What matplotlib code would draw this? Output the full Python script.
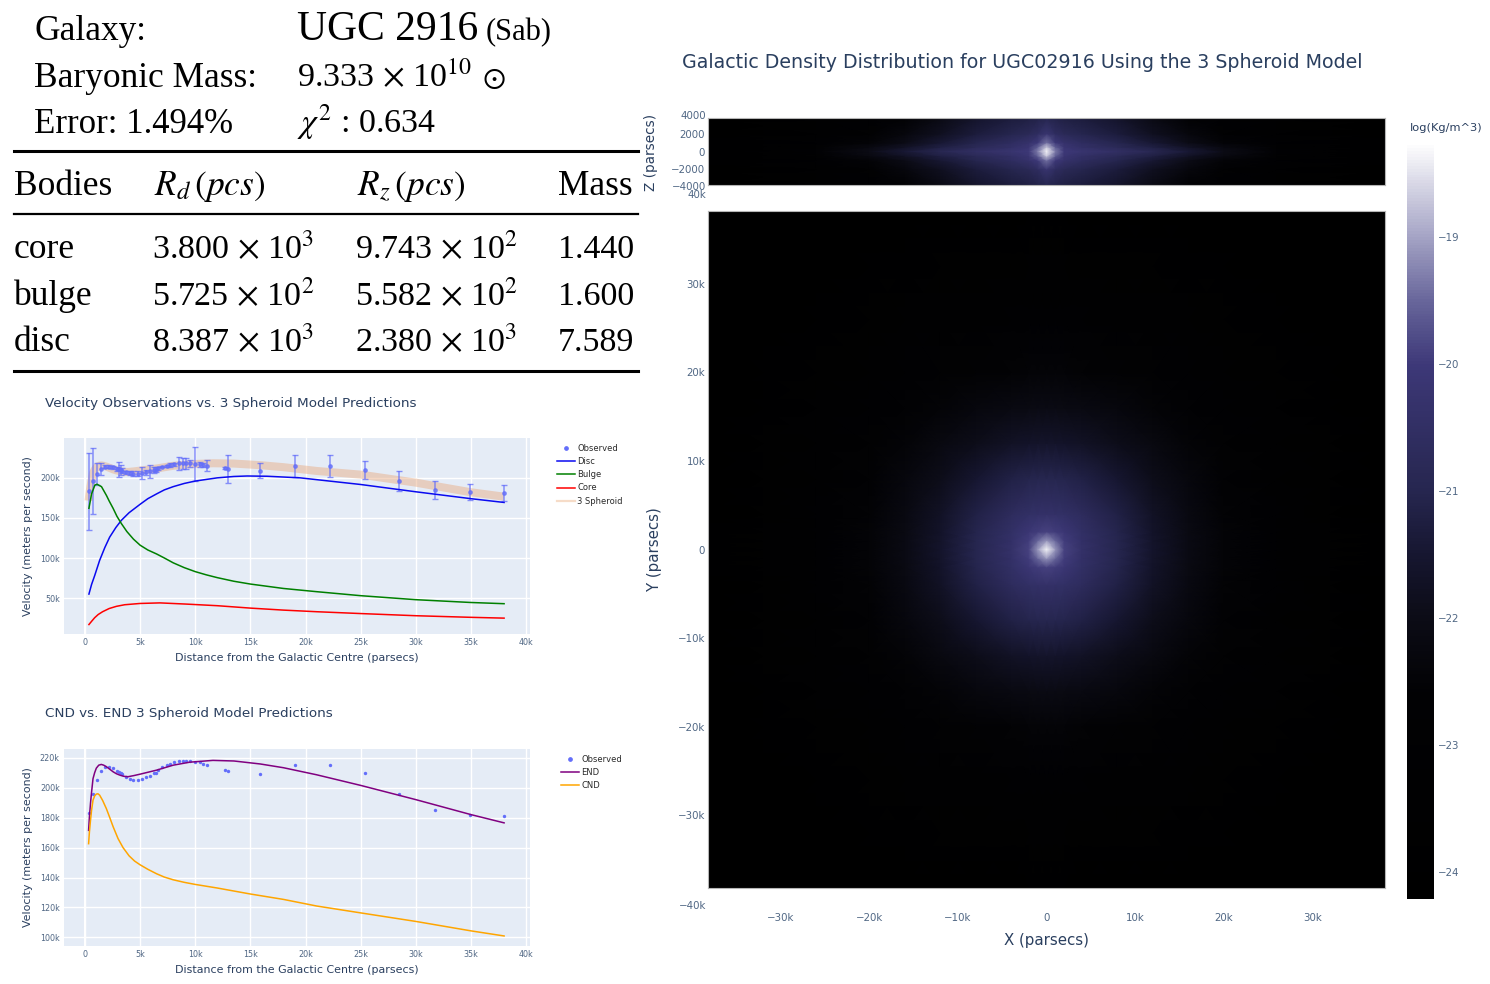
import numpy as np
import matplotlib
matplotlib.use("Agg")
import matplotlib.pyplot as plt
from matplotlib.colors import LinearSegmentedColormap
from matplotlib.lines import Line2D
from matplotlib.ticker import FuncFormatter

plt.rcParams['font.family'] = ['DejaVu Sans']
plt.rcParams['mathtext.fontset'] = 'stix'

# observed rotation curve (x in thousands of parsecs, v in thousands of m/s)
obs_x = [0.33, 0.73, 1.09, 1.48, 1.85, 2.2, 2.58, 2.9, 3.1, 3.27, 3.36, 3.7, 4.06, 4.4, 4.8, 5.2, 5.55, 5.9, 6.3,
         6.4, 6.65, 7.0, 7.4, 7.75, 8.1, 8.5, 8.85, 9.2, 9.55, 10.0, 10.4, 10.7, 11.1, 12.66, 13.0, 15.9, 19.05,
         22.2, 25.36, 28.5, 31.7, 34.9, 38.0]
obs_v = [183, 196, 205, 211, 214, 214, 213, 211, 210.5, 209.5, 209, 207, 206, 205, 205, 206, 207, 208, 210,
         210, 212, 214, 215, 216, 217, 218, 218, 218, 218, 217, 217, 216, 215, 212, 211, 209, 215,
         215, 210, 196, 185, 182, 181]
obs_err = [48, 41, 14, 8, 2, 2, 2, 3, 9, 6, 3, 2, 3, 3, 3, 8, 3, 8, 4,
           3, 2, 1, 1, 2, 2, 8, 7, 7, 4, 21, 3, 3, 7, 1, 17, 9, 14,
           14, 11, 13, 11, 10, 10]

disc_x = [0.36, 0.6, 0.88, 1.33, 1.8, 2.24, 2.8, 3.3, 4, 5, 5.7, 6.5, 7.2, 8, 9, 10, 12, 13.5, 14.7, 16.5, 19.5, 25,
          30, 35, 38]
disc_v = [55, 67, 78, 97, 113, 126, 138, 147, 156.5, 167, 174, 180, 185, 189, 193, 196, 200, 201.7, 202.3, 202, 200,
          191.7, 182.6, 174, 169.3]
bulge_x = [0.36, 0.6, 0.9, 1.1, 1.5, 1.95, 2.2, 2.55, 2.9, 3.3, 3.8, 4.4, 5, 5.7, 6.5, 7.2, 8, 9, 10, 11, 12, 13.5,
           15, 18, 21, 25, 30, 35, 38]
bulge_v = [162, 180, 191, 192, 189, 178, 171, 162, 152, 143, 133, 123.5, 116, 110, 105, 100, 94, 88, 83, 79,
           75.5, 71, 67.5, 62, 58, 53, 48, 44.5, 43]
core_x = [0.36, 0.6, 0.88, 1.2, 1.6, 2.2, 2.85, 3.6, 5, 6.8, 9.2, 12, 15, 18, 21, 25, 30, 35, 38]
core_v = [17, 21, 25.5, 29.5, 33, 37, 39.7, 41.7, 43.3, 44, 42.5, 40.5, 37.5, 35, 33, 30.7, 28, 26, 25]

end_x = [0.33, 0.4, 0.5, 0.6, 0.73, 0.88, 1.03, 1.25, 1.48, 1.7, 1.94, 2.25, 2.55, 2.85, 3.15, 3.5, 3.9, 4.4, 5, 6.5,
         8, 9.5, 11.6, 13.5, 15.9, 18, 21, 25, 30, 35, 38]
end_v = [171.5, 180, 189.4, 197, 206, 210, 213, 215, 215.5, 215, 214, 212.3, 210.6, 209.3, 208.4, 207.6, 207.3, 208,
         209, 211.7, 215, 217, 218.2, 217.8, 215.8, 213.3, 208.6, 201.5, 192, 182, 176.5]
spheroid_v = [171.5, 180, 189.4, 197, 206, 210, 213, 215, 215.5, 215, 214, 212.3, 210.6, 209.3, 208.4, 207.6, 207.3,
              208, 209, 211.7, 215, 217, 218.2, 217.8, 215.8, 213.3, 208.6, 204, 194, 182, 176.5]
cnd_x = [0.33, 0.4, 0.5, 0.6, 0.73, 0.88, 1.03, 1.18, 1.33, 1.6, 1.94, 2.25, 2.55, 3, 3.45, 4, 4.5, 5, 5.7, 6.5, 7.2,
         8, 9, 10, 12, 15, 18, 21, 25, 30, 35, 38]
cnd_v = [162.6, 170, 178, 185, 191.6, 194.5, 195.7, 195.9, 195, 191.5, 186, 180, 174, 166, 160, 154.5, 151, 148.5,
         145.5, 142.5, 140.3, 138.5, 136.8, 135.4, 133, 129, 125.4, 121, 116.4, 110.7, 104.4, 101]

# density tables, log10 values, one quadrant each
grid_k = [0, 1, 2, 4, 8, 12, 16, 20, 26, 32, 38.2]
face_on = [
    [-18.3, -19.1, -19.9, -20.4, -21.0, -21.6, -22.1, -22.5, -23.1, -23.6, -24.0],
    [-19.1, -19.5, -19.97, -20.42, -21.01, -21.61, -22.1, -22.5, -23.1, -23.6, -24.0],
    [-19.9, -19.97, -20.1, -20.47, -21.04, -21.63, -22.12, -22.51, -23.11, -23.6, -24.0],
    [-20.4, -20.42, -20.47, -20.65, -21.14, -21.7, -22.15, -22.54, -23.13, -23.62, -24.01],
    [-21.0, -21.01, -21.04, -21.14, -21.5, -21.95, -22.3, -22.65, -23.2, -23.67, -24.03],
    [-21.6, -21.61, -21.63, -21.7, -21.95, -22.2, -22.5, -22.83, -23.32, -23.74, -24.08],
    [-22.1, -22.1, -22.12, -22.15, -22.3, -22.5, -22.76, -23.06, -23.48, -23.85, -24.1],
    [-22.5, -22.5, -22.51, -22.54, -22.65, -22.83, -23.06, -23.29, -23.65, -23.97, -24.13],
    [-23.1, -23.1, -23.11, -23.13, -23.2, -23.32, -23.48, -23.65, -23.9, -24.1, -24.15],
    [-23.6, -23.6, -23.6, -23.62, -23.67, -23.74, -23.85, -23.97, -24.1, -24.14, -24.17],
    [-24.0, -24.0, -24.0, -24.01, -24.03, -24.08, -24.1, -24.13, -24.15, -24.17, -24.2],
]
edge_x_k = [0, 1, 2, 4, 8, 12, 16, 20, 26, 38.2]
edge_z_k = [0, 0.5, 1, 2, 3.8]
edge_on = [
    [-18.3, -19.3, -20.0, -20.2, -20.5, -20.9, -21.4, -22.0, -22.7, -24.0],
    [-18.7, -19.6, -20.15, -20.45, -20.8, -21.2, -21.7, -22.2, -22.85, -24.0],
    [-19.4, -20.0, -20.3, -20.6, -21.0, -21.45, -22.0, -22.5, -23.0, -24.0],
    [-20.2, -20.6, -20.8, -21.0, -21.3, -21.8, -22.3, -22.8, -23.3, -24.05],
    [-21.0, -21.1, -21.2, -21.3, -21.6, -22.1, -22.6, -23.0, -23.5, -24.1],
]
cbar_ticks = [-24, -23, -22, -21, -20, -19]
cmap_levels = [-24.21, -22.6, -22.0, -21.5, -21.0, -20.0, -19.5, -19.0, -18.25]
cmap_colors = ['#000000', '#020204', '#0c0c16', '#161630', '#26264f', '#3d3878', '#67659a', '#a3a2c4', '#ffffff']

# summary table
bodies = ['core', 'bulge', 'disc']
rd_text = [r'3.800 $\times$ 10$^{3}$', r'5.725 $\times$ 10$^{2}$', r'8.387 $\times$ 10$^{3}$']
rz_text = [r'9.743 $\times$ 10$^{2}$', r'5.582 $\times$ 10$^{2}$', r'2.380 $\times$ 10$^{3}$']
mass_text = ['1.440', '1.600', '7.589']

W, H = 1490, 984
TITLE = '#2a3f5f'
TICK = '#506784'
SERIF = 'Liberation Serif'

fig = plt.figure(figsize=(W / 100, H / 100), dpi=100)


def axes_px(left, top, right, bottom):
    return fig.add_axes([left / W, 1 - bottom / H, (right - left) / W, (bottom - top) / H])


def text_px(x, y, s, **kw):
    return fig.text(x / W, 1 - y / H, s, **kw)


def rule(y, lw):
    fig.add_artist(Line2D([14 / W, 638 / W], [1 - y / H, 1 - y / H], color='black', lw=lw))


def k_label(v, pos):
    if v == 0:
        return '0'
    return f'{v / 1000:.0f}k'.replace('-', '\u2212')


def style_curve_axes(ax, ylim, yticks):
    ax.set_facecolor('#e5ecf6')
    ax.set_xlim(-1900, 40350)
    ax.set_ylim(*ylim)
    ax.set_xticks(range(0, 40001, 5000))
    ax.set_yticks(yticks)
    ax.xaxis.set_major_formatter(FuncFormatter(k_label))
    ax.yaxis.set_major_formatter(FuncFormatter(k_label))
    ax.grid(color='white', lw=1)
    ax.set_axisbelow(True)
    ax.tick_params(length=0, labelsize=5.8, labelcolor=TICK, pad=3)
    for s in ax.spines.values():
        s.set_visible(False)
    ax.axvline(0, color='white', lw=1.5, zorder=1)
    ax.set_xlabel('Distance from the Galactic Centre (parsecs)', fontsize=7.9, color=TITLE, labelpad=4)
    ax.set_ylabel('Velocity (meters per second)', fontsize=7.9, color=TITLE, labelpad=0, va='center')
    ax.yaxis.set_label_coords(-36 / 466, 0.5)


def thousands(vals):
    return np.array(vals) * 1000


# top left table
text_px(34, 40, 'Galaxy:', family=SERIF, fontsize=25.5)
text_px(34, 87, 'Baryonic Mass:', family=SERIF, fontsize=25.5)
text_px(34, 133, 'Error: 1.494%', family=SERIF, fontsize=25)
text_px(297, 40, 'UGC 2916', family=SERIF, fontsize=30)
text_px(486, 40, '(Sab)', family=SERIF, fontsize=22)
text_px(297, 87, r'9.333 $\times$ 10$^{10}$', family=SERIF, fontsize=24.5)
text_px(482, 87, r'$\odot$', family=SERIF, fontsize=22)
text_px(297, 133, r'$\chi^{2}$ : 0.634', family=SERIF, fontsize=24.5)
text_px(14, 195, 'Bodies', family=SERIF, fontsize=25.5)
text_px(154, 195, r'$R_{d}\,(pcs)$', family=SERIF, fontsize=25.5)
text_px(357, 195, r'$R_{z}\,(pcs)$', family=SERIF, fontsize=25.5)
text_px(558, 195, 'Mass', family=SERIF, fontsize=25.5)
for y, name, rd, rz, m in zip([258, 305, 351], bodies, rd_text, rz_text, mass_text):
    text_px(14, y, name, family=SERIF, fontsize=25.5)
    text_px(152, y, rd, family=SERIF, fontsize=24.5)
    text_px(355, y, rz, family=SERIF, fontsize=24.5)
    text_px(558, y, m, family=SERIF, fontsize=24.5)
rule(151, 2.2)
rule(214, 1.6)
rule(371, 2.2)

# velocity components
text_px(45, 403, 'Velocity Observations vs. 3 Spheroid Model Predictions', fontsize=9.7, color=TITLE, va='center')
ax1 = axes_px(64, 438, 530, 634)
style_curve_axes(ax1, (5200, 249700), [50000, 100000, 150000, 200000])
ax1.plot(thousands(end_x), thousands(spheroid_v), color='#e9a87c', alpha=0.45, lw=5.8, solid_capstyle='butt',
         label='3 Spheroid', zorder=2)
ax1.errorbar(thousands(obs_x), thousands(obs_v), yerr=thousands(obs_err), fmt='o', ms=2.4, color='#636efa',
             ecolor='#636efa', elinewidth=1.1, capsize=2.4, capthick=1.0, alpha=0.75, zorder=3)
ax1.plot(thousands(disc_x), thousands(disc_v), color='#0a0af0', lw=1.1, zorder=4)
ax1.plot(thousands(bulge_x), thousands(bulge_v), color='green', lw=1.1, zorder=4)
ax1.plot(thousands(core_x), thousands(core_v), color='red', lw=1.1, zorder=4)
handles1 = [Line2D([], [], marker='o', ms=2.4, color='#636efa', ls='none'),
            Line2D([], [], color='#0a0af0', lw=1.1),
            Line2D([], [], color='green', lw=1.1),
            Line2D([], [], color='red', lw=1.1),
            Line2D([], [], color='#f6dcc8', lw=1.6)]
fig.legend(handles1, ['Observed', 'Disc', 'Bulge', 'Core', '3 Spheroid'], loc='upper left',
           bbox_to_anchor=(557 / W, 1 - 444 / H), borderaxespad=0, borderpad=0, frameon=False, fontsize=6,
           labelspacing=0.5, handlelength=2.2, handletextpad=0.25, labelcolor='#2a2a2a')

# END vs CND
text_px(45, 714, 'CND vs. END 3 Spheroid Model Predictions', fontsize=9.7, color=TITLE, va='center')
ax2 = axes_px(64, 749, 530, 946)
style_curve_axes(ax2, (94300, 225800), list(range(100000, 220001, 20000)))
ax2.scatter(thousands(obs_x), thousands(obs_v), s=6, color='#636efa', linewidths=0, zorder=3)
ax2.plot(thousands(end_x), thousands(end_v), color='purple', lw=1.1, zorder=4)
ax2.plot(thousands(cnd_x), thousands(cnd_v), color='orange', lw=1.1, zorder=4)
handles2 = [Line2D([], [], marker='o', ms=2.4, color='#636efa', ls='none'),
            Line2D([], [], color='purple', lw=1.1),
            Line2D([], [], color='orange', lw=1.1)]
fig.legend(handles2, ['Observed', 'END', 'CND'], loc='upper left',
           bbox_to_anchor=(561 / W, 1 - 755 / H), borderaxespad=0, borderpad=0, frameon=False, fontsize=6,
           labelspacing=0.5, handlelength=2.2, handletextpad=0.25, labelcolor='#2a2a2a')

# density maps
vmin, vmax = cmap_levels[0], cmap_levels[-1]
cmap = LinearSegmentedColormap.from_list('galaxy', [((v - vmin) / (vmax - vmin), c)
                                                    for v, c in zip(cmap_levels, cmap_colors)])


def mirrored_axis(vals):
    a = np.array(vals) * 1000
    return np.concatenate([-a[:0:-1], a])


def mirrored_table(table):
    t = np.array(table)
    t = np.hstack([t[:, :0:-1], t])
    return np.vstack([t[:0:-1], t])


text_px(682, 63, 'Galactic Density Distribution for UGC02916 Using the 3 Spheroid Model', fontsize=13.7,
        color=TITLE, va='center')

ax_xy = axes_px(708, 211, 1385, 888)
mesh = ax_xy.pcolormesh(mirrored_axis(grid_k), mirrored_axis(grid_k), mirrored_table(face_on), shading='gouraud',
                        cmap=cmap, vmin=vmin, vmax=vmax)
ax_xy.set_xlim(-38200, 38200)
ax_xy.set_ylim(-38200, 38200)
ax_xy.set_xticks(range(-30000, 30001, 10000))
ax_xy.set_yticks(range(-30000, 30001, 10000))
ax_xy.xaxis.set_major_formatter(FuncFormatter(k_label))
ax_xy.yaxis.set_major_formatter(FuncFormatter(k_label))
ax_xy.tick_params(length=0, labelsize=7.4, labelcolor=TICK, pad=2)
ax_xy.tick_params(axis='x', pad=18)
ax_xy.set_xlabel('X (parsecs)', fontsize=10.8, color=TITLE, labelpad=7)
ax_xy.text(-38400, -40200, '\u221240k', ha='right', va='center', fontsize=7.4, color=TICK, clip_on=False)
ax_xy.text(-38400, 40000, '40k', ha='right', va='center', fontsize=7.4, color=TICK, clip_on=False)
text_px(655, 549, 'Y (parsecs)', fontsize=10.8, color=TITLE, rotation=90, ha='center', va='center')

ax_xz = axes_px(708, 118, 1385, 185)
ax_xz.pcolormesh(mirrored_axis(edge_x_k), mirrored_axis(edge_z_k), mirrored_table(edge_on), shading='gouraud',
                 cmap=cmap, vmin=vmin, vmax=vmax)
ax_xz.set_xlim(-38200, 38200)
ax_xz.set_ylim(-3780, 3780)
ax_xz.set_xticks([])
ax_xz.set_yticks([-2000, 0, 2000])
ax_xz.set_yticklabels(['\u22122000', '0', '2000'])
ax_xz.tick_params(length=0, labelsize=7.4, labelcolor=TICK, pad=2)
ax_xz.text(-38400, 4000, '4000', ha='right', va='center', fontsize=7.4, color=TICK, clip_on=False)
ax_xz.text(-38400, -4000, '\u22124000', ha='right', va='center', fontsize=7.4, color=TICK, clip_on=False)
text_px(651, 152, 'Z (parsecs)', fontsize=9.8, color=TITLE, rotation=90, ha='center', va='center')

for ax in (ax_xy, ax_xz):
    for s in ax.spines.values():
        s.set_color('#b5b5b5')
        s.set_linewidth(0.8)

cax = axes_px(1407, 142, 1434, 899)
cb = fig.colorbar(mesh, cax=cax, ticks=cbar_ticks)
cb.ax.set_yticklabels([str(t).replace('-', '\u2212') for t in cbar_ticks])
cb.ax.tick_params(length=0, labelsize=7.4, labelcolor=TICK, pad=3)
cb.outline.set_visible(False)
text_px(1446, 128, 'log(Kg/m^3)', fontsize=8.2, color=TITLE, ha='center', va='center')

fig.savefig('out.png', dpi=100, facecolor='white')
